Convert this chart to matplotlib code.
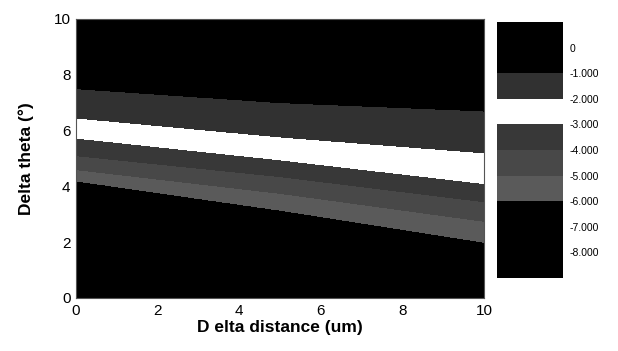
import numpy as np
import matplotlib.pyplot as plt
from matplotlib.colors import ListedColormap, BoundaryNorm

plt.rcParams['font.family'] = ['Liberation Sans', 'DejaVu Sans']

# границы уровней (theta при d = 0, 5, 10)
d_pts = [0, 5, 10]
level_vals = [-6, -5, -4, -3, -2, -1]
level_theta = {
    -6: [4.2, 3.15, 2.0],
    -5: [4.6, 3.75, 2.75],
    -4: [5.1, 4.35, 3.45],
    -3: [5.73, 4.95, 4.1],
    -2: [6.45, 5.77, 5.2],
    -1: [7.5, 7.0, 6.7],
}
z_bottom = -8.6
z_top = 0.6

levels = [-9, -8, -7, -6, -5, -4, -3, -2, -1, 0, 1]
band_colors = ['#000000', '#000000', '#000000', '#5a5a5a', '#484848',
               '#383838', '#ffffff', '#313131', '#000000', '#000000']
tick_vals = [0, -1, -2, -3, -4, -5, -6, -7, -8]
tick_text = ['0', '-1.000', '-2.000', '-3.000', '-4.000', '-5.000',
             '-6.000', '-7.000', '-8.000']

d = np.linspace(0, 10, 201)
th = np.linspace(0, 10, 401)
Z = np.zeros((len(th), len(d)))
for j, dj in enumerate(d):
    bnd = [np.interp(dj, d_pts, level_theta[v]) for v in level_vals]
    Z[:, j] = np.interp(th, [0] + bnd + [10], [z_bottom] + level_vals + [z_top])

fig = plt.figure(figsize=(6.18, 3.51), dpi=100)
ax = fig.add_axes([0.123, 0.151, 0.66, 0.795])
cmap = ListedColormap(band_colors)
norm = BoundaryNorm(levels, cmap.N)
cs = ax.contourf(d, th, Z, levels=levels, cmap=cmap, norm=norm)

ax.set_xlim(0, 10)
ax.set_ylim(0, 10)
ax.set_xticks([0, 2, 4, 6, 8, 10])
ax.set_yticks([0, 2, 4, 6, 8, 10])
ax.tick_params(length=0, labelsize=11, pad=4)
ax.set_xlabel('D elta distance (um)', fontsize=12.5, fontweight='bold', labelpad=2)
ax.set_ylabel('Delta theta (°)', fontsize=12.5, fontweight='bold', labelpad=14)
for s in ax.spines.values():
    s.set_color('#555555')
    s.set_linewidth(0.8)

cax = fig.add_axes([0.804, 0.208, 0.107, 0.729])
cb = fig.colorbar(cs, cax=cax, ticks=tick_vals)
cb.ax.set_yticklabels(tick_text)
cb.ax.minorticks_off()
cb.ax.tick_params(which='both', length=0, labelsize=7.5, pad=5)
cb.outline.set_visible(False)

fig.savefig('out.png', dpi=100)
